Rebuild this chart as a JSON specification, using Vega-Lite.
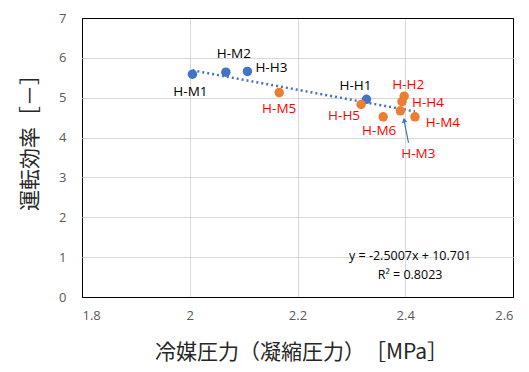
{
  "$schema": "https://vega.github.io/schema/vega-lite/v6.json",
  "width": 431,
  "height": 279,
  "autosize": "none",
  "padding": {"left": 82, "top": 18, "right": 16, "bottom": 75},
  "background": "white",
  "config": {
    "view": {"stroke": "#000000", "strokeWidth": 1},
    "font": "Open Sans",
    "axis": {
      "grid": true, "gridWidth": 1,
      "domain": false, "ticks": false,
      "labelFont": "Open Sans", "labelFontSize": 13, "labelColor": "#595959",
      "titleFont": "Noto Sans CJK JP", "titleFontSize": 21, "titleFontWeight": "normal", "titleColor": "#262626"
    }
  },
  "datasets": {
    "pts": [
      {"name": "H-M1", "x": 2.005, "y": 5.59, "series": "blue"},
      {"name": "H-M2", "x": 2.067, "y": 5.64, "series": "blue"},
      {"name": "H-H3", "x": 2.107, "y": 5.66, "series": "blue"},
      {"name": "H-H1", "x": 2.328, "y": 4.96, "series": "blue"},
      {"name": "H-M5", "x": 2.166, "y": 5.13, "series": "orange"},
      {"name": "H-H5", "x": 2.318, "y": 4.83, "series": "orange"},
      {"name": "H-M6", "x": 2.359, "y": 4.52, "series": "orange"},
      {"name": "H-H2", "x": 2.398, "y": 5.04, "series": "orange"},
      {"name": "H-H4", "x": 2.394, "y": 4.90, "series": "orange"},
      {"name": "H-M3", "x": 2.391, "y": 4.67, "series": "orange"},
      {"name": "H-M4", "x": 2.418, "y": 4.52, "series": "orange"}
    ],
    "trend": [
      {"x": 2.005, "y": 5.687},
      {"x": 2.418, "y": 4.654}
    ],
    "arrow": [{"x": 2.406, "y": 3.87, "x2": 2.398, "y2": 4.42}],
    "head": [{"x": 2.398, "y": 4.44}],
    "eq": [
      {"x": 2.409, "y": 1.03, "t": "y = -2.5007x + 10.701"},
      {"x": 2.409, "y": 0.55, "t": "R² = 0.8023"}
    ]
  },
  "encoding": {
    "x": {"field": "x", "type": "quantitative",
      "scale": {"domain": [1.8, 2.6], "nice": false, "zero": false},
      "axis": {"values": [1.8, 2, 2.2, 2.4, 2.6], "format": "~g", "labelPadding": 12,
        "gridColor": {"condition": {"test": "datum.value <= 1.8 || datum.value >= 2.6", "value": "#000000"}, "value": "#d9d9d9"},
        "title": "冷媒圧力（凝縮圧力）　［MPa］", "titleX": 219, "titleY": 55, "titleBaseline": "middle", "titleAlign": "center"}},
    "y": {"field": "y", "type": "quantitative",
      "scale": {"domain": [0, 7], "nice": false},
      "axis": {"values": [0, 1, 2, 3, 4, 5, 6, 7], "labelPadding": 16,
        "gridColor": {"condition": {"test": "datum.value <= 0 || datum.value >= 7", "value": "#000000"}, "value": "#d9d9d9"},
        "title": "運転効率［－］", "titleX": -52, "titleY": 119, "titleAngle": -90, "titleBaseline": "middle", "titleAlign": "center"}}
  },
  "layer": [
    {
      "data": {"name": "trend"},
      "mark": {"type": "line", "color": "#4472C4", "strokeWidth": 2.5, "strokeDash": [2, 3]}
    },
    {
      "data": {"name": "pts"},
      "mark": {"type": "circle", "size": 90, "opacity": 1},
      "encoding": {
        "color": {"field": "series", "type": "nominal", "scale": {"domain": ["blue", "orange"], "range": ["#4472C4", "#ED7D31"]}, "legend": null}
      }
    },
    {
      "data": {"name": "arrow"},
      "mark": {"type": "rule", "color": "#4472C4", "strokeWidth": 1.2},
      "encoding": {
        "x2": {"field": "x2"},
        "y2": {"field": "y2"}
      }
    },
    {
      "data": {"name": "head"},
      "mark": {"type": "point", "shape": "triangle-up", "filled": true, "size": 30, "angle": 349, "color": "#4472C4", "opacity": 1}
    },
    {
      "data": {"name": "eq"},
      "mark": {"type": "text", "fontSize": 12.5, "color": "#000000", "align": "center", "baseline": "middle", "font": "Open Sans"},
      "encoding": {"text": {"field": "t"}}
    },
    {"data": {"name": "pts"}, "transform": [{"filter": "datum.name == 'H-M1'"}],
     "mark": {"type": "text", "fontSize": 13.5, "color": "#000000", "dx": -2, "dy": 18},
     "encoding": {"text": {"field": "name"}}},
    {"data": {"name": "pts"}, "transform": [{"filter": "datum.name == 'H-M2'"}],
     "mark": {"type": "text", "fontSize": 13.5, "color": "#000000", "dx": 8, "dy": -18},
     "encoding": {"text": {"field": "name"}}},
    {"data": {"name": "pts"}, "transform": [{"filter": "datum.name == 'H-H3'"}],
     "mark": {"type": "text", "fontSize": 13.5, "color": "#000000", "dx": 24, "dy": -3},
     "encoding": {"text": {"field": "name"}}},
    {"data": {"name": "pts"}, "transform": [{"filter": "datum.name == 'H-H1'"}],
     "mark": {"type": "text", "fontSize": 13.5, "color": "#000000", "dx": -11, "dy": -13},
     "encoding": {"text": {"field": "name"}}},
    {"data": {"name": "pts"}, "transform": [{"filter": "datum.name == 'H-M5'"}],
     "mark": {"type": "text", "fontSize": 13.5, "color": "#FF0000", "dx": 0, "dy": 16},
     "encoding": {"text": {"field": "name"}}},
    {"data": {"name": "pts"}, "transform": [{"filter": "datum.name == 'H-H5'"}],
     "mark": {"type": "text", "fontSize": 13.5, "color": "#FF0000", "dx": -17, "dy": 12},
     "encoding": {"text": {"field": "name"}}},
    {"data": {"name": "pts"}, "transform": [{"filter": "datum.name == 'H-M6'"}],
     "mark": {"type": "text", "fontSize": 13.5, "color": "#FF0000", "dx": -4, "dy": 14},
     "encoding": {"text": {"field": "name"}}},
    {"data": {"name": "pts"}, "transform": [{"filter": "datum.name == 'H-H2'"}],
     "mark": {"type": "text", "fontSize": 13.5, "color": "#FF0000", "dx": 4, "dy": -11},
     "encoding": {"text": {"field": "name"}}},
    {"data": {"name": "pts"}, "transform": [{"filter": "datum.name == 'H-H4'"}],
     "mark": {"type": "text", "fontSize": 13.5, "color": "#FF0000", "dx": 26, "dy": 1},
     "encoding": {"text": {"field": "name"}}},
    {"data": {"name": "pts"}, "transform": [{"filter": "datum.name == 'H-M4'"}],
     "mark": {"type": "text", "fontSize": 13.5, "color": "#FF0000", "dx": 28, "dy": 6},
     "encoding": {"text": {"field": "name"}}},
    {"data": {"name": "pts"}, "transform": [{"filter": "datum.name == 'H-M3'"}],
     "mark": {"type": "text", "fontSize": 13.5, "color": "#FF0000", "dx": 18, "dy": 43},
     "encoding": {"text": {"field": "name"}}}
  ]
}
